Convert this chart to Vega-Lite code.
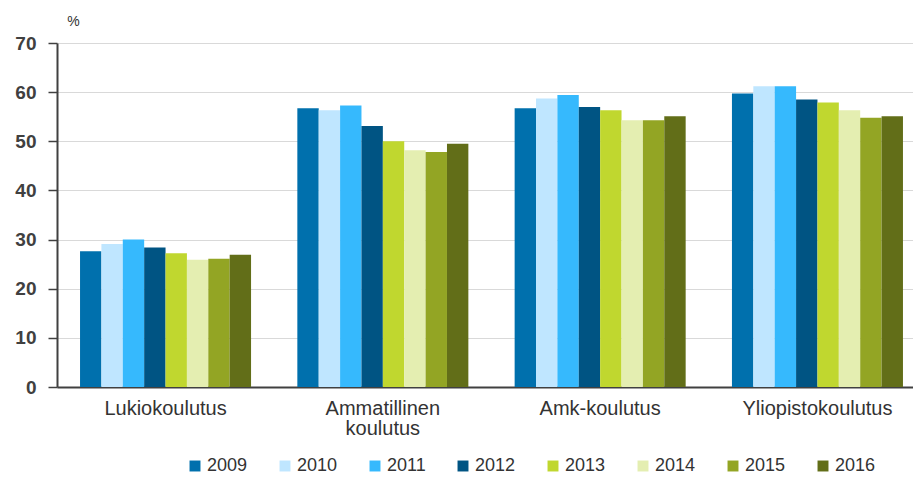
{
  "$schema": "https://vega.github.io/schema/vega-lite/v6.json",
  "width": 856,
  "height": 344,
  "autosize": "none",
  "padding": {"left": 57, "top": 43, "right": 0, "bottom": 90},
  "background": "white",
  "config": {
    "view": {"stroke": null},
    "font": "Liberation Sans"
  },
  "data": {
    "values": [
      {"koulutus": "Lukiokoulutus", "vuosi": "2009", "arvo": 27.6},
      {"koulutus": "Lukiokoulutus", "vuosi": "2010", "arvo": 29.1},
      {"koulutus": "Lukiokoulutus", "vuosi": "2011", "arvo": 30.0},
      {"koulutus": "Lukiokoulutus", "vuosi": "2012", "arvo": 28.4},
      {"koulutus": "Lukiokoulutus", "vuosi": "2013", "arvo": 27.2},
      {"koulutus": "Lukiokoulutus", "vuosi": "2014", "arvo": 25.9},
      {"koulutus": "Lukiokoulutus", "vuosi": "2015", "arvo": 26.1},
      {"koulutus": "Lukiokoulutus", "vuosi": "2016", "arvo": 26.9},
      {"koulutus": "Ammatillinen koulutus", "vuosi": "2009", "arvo": 56.7},
      {"koulutus": "Ammatillinen koulutus", "vuosi": "2010", "arvo": 56.3},
      {"koulutus": "Ammatillinen koulutus", "vuosi": "2011", "arvo": 57.3},
      {"koulutus": "Ammatillinen koulutus", "vuosi": "2012", "arvo": 53.1},
      {"koulutus": "Ammatillinen koulutus", "vuosi": "2013", "arvo": 50.0},
      {"koulutus": "Ammatillinen koulutus", "vuosi": "2014", "arvo": 48.2},
      {"koulutus": "Ammatillinen koulutus", "vuosi": "2015", "arvo": 47.8},
      {"koulutus": "Ammatillinen koulutus", "vuosi": "2016", "arvo": 49.5},
      {"koulutus": "Amk-koulutus", "vuosi": "2009", "arvo": 56.7},
      {"koulutus": "Amk-koulutus", "vuosi": "2010", "arvo": 58.7},
      {"koulutus": "Amk-koulutus", "vuosi": "2011", "arvo": 59.4},
      {"koulutus": "Amk-koulutus", "vuosi": "2012", "arvo": 57.0},
      {"koulutus": "Amk-koulutus", "vuosi": "2013", "arvo": 56.3},
      {"koulutus": "Amk-koulutus", "vuosi": "2014", "arvo": 54.3},
      {"koulutus": "Amk-koulutus", "vuosi": "2015", "arvo": 54.3},
      {"koulutus": "Amk-koulutus", "vuosi": "2016", "arvo": 55.1},
      {"koulutus": "Yliopistokoulutus", "vuosi": "2009", "arvo": 59.7},
      {"koulutus": "Yliopistokoulutus", "vuosi": "2010", "arvo": 61.2},
      {"koulutus": "Yliopistokoulutus", "vuosi": "2011", "arvo": 61.2},
      {"koulutus": "Yliopistokoulutus", "vuosi": "2012", "arvo": 58.5},
      {"koulutus": "Yliopistokoulutus", "vuosi": "2013", "arvo": 57.9},
      {"koulutus": "Yliopistokoulutus", "vuosi": "2014", "arvo": 56.3},
      {"koulutus": "Yliopistokoulutus", "vuosi": "2015", "arvo": 54.8},
      {"koulutus": "Yliopistokoulutus", "vuosi": "2016", "arvo": 55.1}
    ]
  },
  "mark": {"type": "bar"},
  "encoding": {
    "x": {
      "field": "koulutus",
      "type": "nominal",
      "sort": null,
      "scale": {"range": [0, 869], "paddingInner": 0.213, "paddingOuter": 0.106},
      "axis": {
        "title": null,
        "labelAngle": 0,
        "ticks": false,
        "domainColor": "#404040",
        "domainWidth": 2,
        "labelFontSize": 20,
        "labelColor": "#333333",
        "labelPadding": 11,
        "labelLineHeight": 20,
        "labelBaseline": "top",
        "labelExpr": "datum.label == 'Ammatillinen koulutus' ? ['Ammatillinen', 'koulutus'] : datum.label"
      }
    },
    "xOffset": {
      "field": "vuosi",
      "type": "nominal",
      "scale": {"paddingInner": 0, "paddingOuter": 0}
    },
    "y": {
      "field": "arvo",
      "type": "quantitative",
      "scale": {"domain": [0, 70], "nice": false},
      "axis": {
        "values": [0, 10, 20, 30, 40, 50, 60, 70],
        "title": "%",
        "titleAngle": 0,
        "titleX": 16,
        "titleY": -22,
        "titleAlign": "center",
        "titleBaseline": "middle",
        "titleFontSize": 14,
        "titleFontWeight": "normal",
        "titleColor": "#333333",
        "labelFontSize": 19,
        "labelFontWeight": "bold",
        "labelColor": "#404040",
        "labelPadding": 12,
        "tickSize": 9,
        "tickColor": "#404040",
        "tickWidth": 1.5,
        "domainColor": "#404040",
        "domainWidth": 2,
        "gridColor": "#d9d9d9",
        "gridWidth": 1
      }
    },
    "color": {
      "field": "vuosi",
      "type": "nominal",
      "scale": {
        "domain": ["2009", "2010", "2011", "2012", "2013", "2014", "2015", "2016"],
        "range": ["#0070ad", "#bfe6ff", "#36b9fd", "#005483", "#c0d72f", "#e4eeb1", "#93a524", "#626e18"]
      },
      "legend": {
        "title": null,
        "orient": "none",
        "legendX": 129,
        "legendY": 414,
        "direction": "horizontal",
        "columns": 8,
        "symbolType": "square",
        "symbolSize": 120,
        "symbolStrokeWidth": 0,
        "labelFontSize": 18,
        "labelColor": "#333333",
        "labelOffset": 3,
        "columnPadding": 28,
        "padding": 0
      }
    }
  }
}
